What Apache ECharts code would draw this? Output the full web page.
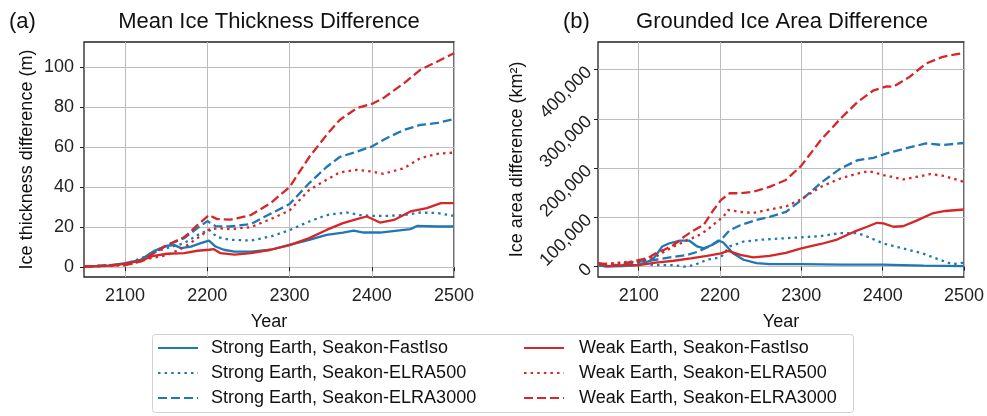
<!DOCTYPE html>
<html>
<head>
<meta charset="utf-8">
<script src="https://cdn.jsdelivr.net/npm/echarts@6/dist/echarts.min.js"></script>
<style>
    html, body { margin: 0; padding: 0; background: #fff; }
    #chart { width: 987px; height: 416px; }
</style>
</head>
<body>
<div id="chart"></div>
<script>
    // series names (legend)
    const names = [
        'Strong Earth, Seakon-FastIso',
        'Strong Earth, Seakon-ELRA500',
        'Strong Earth, Seakon-ELRA3000',
        'Weak Earth, Seakon-FastIso',
        'Weak Earth, Seakon-ELRA500',
        'Weak Earth, Seakon-ELRA3000'
    ];

    // (a) mean ice thickness difference, [year, m]
    const thkStrongFastIso = [[2050,0.3],[2080,0.8],[2100,2],[2119,3.7],[2135,8],[2151,10.7],[2160,11],[2168,9.5],[2180,10.3],[2192,12],[2202,13.3],[2210,10.3],[2220,8.7],[2233,7.8],[2253,7.8],[2277,8.7],[2300,11.1],[2324,13.6],[2345,16.1],[2365,17.3],[2378,18.3],[2390,17.3],[2410,17.3],[2431,18.3],[2447,19],[2455,20.6],[2480,20.3],[2500,20.3]];
    const thkStrongElra500 = [[2050,0.3],[2100,1.5],[2123,5],[2139,8],[2155,10],[2172,12],[2188,16],[2202,18.7],[2212,15],[2228,13.7],[2253,13.3],[2277,15.3],[2300,18.5],[2324,22.8],[2345,26],[2369,27.3],[2386,26],[2400,25.6],[2418,25.6],[2439,26],[2459,27.3],[2480,27],[2500,25.6]];
    const thkStrongElra3000 = [[2050,0.3],[2100,1.5],[2120,3],[2131,7],[2151,11],[2172,14.5],[2188,19.5],[2200,23],[2210,20.5],[2228,20.3],[2253,21.5],[2269,25],[2300,31.5],[2324,42],[2345,50],[2361,55],[2382,57.7],[2400,60.2],[2418,64.4],[2439,68.5],[2459,71],[2480,72],[2500,74]];
    const thkWeakFastIso = [[2050,0.3],[2080,0.8],[2100,1.7],[2119,3.3],[2135,5.7],[2151,6.7],[2172,7],[2188,8.2],[2202,8.7],[2208,9],[2216,7],[2233,6.3],[2253,7],[2277,8.7],[2300,11],[2324,14.5],[2345,18.6],[2365,22],[2386,24.5],[2394,25.3],[2410,22.3],[2427,23.6],[2447,27.8],[2467,29.5],[2484,32],[2500,32]];
    const thkWeakElra500 = [[2050,0.3],[2100,1],[2111,2],[2131,4.5],[2151,6],[2172,10],[2188,14.5],[2202,18.7],[2212,19.5],[2228,19],[2253,20],[2277,24],[2300,28.3],[2324,38.6],[2345,43.6],[2361,47.3],[2382,48.6],[2400,47.8],[2414,46.6],[2439,49.4],[2459,54.4],[2480,56.6],[2500,57.2]];
    const thkWeakElra3000 = [[2050,0.3],[2100,1],[2120,3],[2131,6],[2151,11],[2172,15],[2188,21],[2202,26],[2212,24],[2228,23.7],[2253,26],[2277,32],[2300,40],[2324,55],[2345,66],[2361,73.5],[2382,79.4],[2400,81.5],[2414,84.4],[2439,91.8],[2459,98.5],[2480,102.7],[2500,106.8]];

    // (b) grounded ice area difference, [year, km2]
    const areaStrongFastIso = [[2050,3000],[2060,0],[2080,1000],[2100,3000],[2117,14000],[2123,27000],[2129,41000],[2137,47000],[2151,53000],[2162,53000],[2172,41000],[2180,37000],[2190,44000],[2198,53000],[2204,49000],[2216,27000],[2229,14000],[2245,7000],[2261,5000],[2300,5000],[2350,4000],[2400,4000],[2450,2000],[2500,1000]];
    const areaStrongElra500 = [[2050,3000],[2070,7000],[2086,10000],[2101,7000],[2121,3000],[2143,3000],[2156,0],[2168,3000],[2184,14000],[2201,19000],[2212,41000],[2229,51000],[2253,55000],[2294,59000],[2324,62000],[2348,68000],[2369,68000],[2381,61000],[2401,47000],[2425,37000],[2449,27000],[2470,14000],[2486,5000],[2500,8000]];
    const areaStrongElra3000 = [[2050,2000],[2074,3000],[2101,10000],[2121,14000],[2143,20000],[2160,24000],[2172,30000],[2188,42000],[2201,54000],[2212,74000],[2225,84000],[2245,95000],[2261,101000],[2281,111000],[2300,135000],[2324,170000],[2348,199000],[2369,216000],[2389,221000],[2405,230000],[2433,242000],[2453,250000],[2474,247000],[2500,251000]];
    const areaWeakFastIso = [[2050,7000],[2062,1000],[2082,3000],[2100,3000],[2121,8000],[2143,12000],[2164,17000],[2184,22000],[2201,27000],[2210,32000],[2225,24000],[2241,19000],[2261,22000],[2281,28000],[2300,37000],[2324,46000],[2344,55000],[2365,71000],[2381,81000],[2393,89000],[2401,88000],[2413,81000],[2425,82000],[2441,93000],[2461,108000],[2477,113000],[2500,116000]];
    const areaWeakElra500 = [[2050,5000],[2100,10000],[2121,20000],[2131,30000],[2143,41000],[2160,54000],[2172,62000],[2184,74000],[2196,91000],[2204,101000],[2210,115000],[2225,111000],[2241,109000],[2261,116000],[2281,122000],[2300,137000],[2324,162000],[2348,179000],[2369,189000],[2383,194000],[2401,186000],[2425,177000],[2441,182000],[2459,188000],[2476,184000],[2500,172000]];
    const areaWeakElra3000 = [[2050,7000],[2074,3000],[2101,14000],[2111,17000],[2121,27000],[2131,34000],[2143,44000],[2156,61000],[2165,71000],[2180,85000],[2192,115000],[2201,135000],[2212,149000],[2225,149000],[2241,152000],[2261,162000],[2281,176000],[2300,205000],[2324,257000],[2348,300000],[2369,334000],[2389,358000],[2405,366000],[2413,365000],[2433,385000],[2453,412000],[2474,426000],[2500,434000]];

    // tick labels
    const yearTicks = [2100, 2200, 2300, 2400, 2500];
    const thkTicks = [0, 20, 40, 60, 80, 100];
    const areaTicks = [0, 100000, 200000, 300000, 400000];

    const blue = '#1f77b4';
    const red = '#d62728';
    const font = '"Liberation Sans", Arial, sans-serif';
    const styles = [
        {color: blue, type: 'solid'},
        {color: blue, type: [2.5, 4.1]},
        {color: blue, type: [9, 4]},
        {color: red, type: 'solid'},
        {color: red, type: [2.5, 4.1]},
        {color: red, type: [9, 4]}
    ];
    const thkData = [thkStrongFastIso, thkStrongElra500, thkStrongElra3000, thkWeakFastIso, thkWeakElra500, thkWeakElra3000];
    const areaData = [areaStrongFastIso, areaStrongElra500, areaStrongElra3000, areaWeakFastIso, areaWeakElra500, areaWeakElra3000];

    function makeX(gridIndex) {
        return {
            type: 'value', gridIndex: gridIndex, min: 2050, max: 2500,
            name: 'Year', nameLocation: 'middle', nameGap: 36,
            nameTextStyle: {fontSize: 18, color: '#111', fontFamily: font},
            axisLine: {show: false},
            axisTick: {show: true, length: 4, lineStyle: {color: '#222'}, customValues: yearTicks},
            axisLabel: {
                fontSize: 18, color: '#222', fontFamily: font, margin: 10, customValues: yearTicks,
                formatter: function (v) { return String(v); }
            },
            splitLine: {show: true, lineStyle: {color: '#bdbdbd', width: 1}}
        };
    }

    function makeSeries(data, i, axisIndex) {
        return {
            name: names[i], type: 'line', data: data,
            xAxisIndex: axisIndex, yAxisIndex: axisIndex,
            symbol: 'none', smooth: false,
            lineStyle: {color: styles[i].color, type: styles[i].type, width: 2.3, cap: 'butt'},
            itemStyle: {color: styles[i].color}
        };
    }

    let series = [];
    thkData.forEach(function (d, i) { series.push(makeSeries(d, i, 0)); });
    areaData.forEach(function (d, i) { series.push(makeSeries(d, i, 1)); });

    let legendBase = {
        orient: 'vertical', top: 339, padding: 0,
        itemWidth: 40, itemHeight: 14, itemGap: 7, selectedMode: false,
        itemStyle: {opacity: 0, color: 'transparent', borderWidth: 0}
    };

    let myChart = echarts.init(document.getElementById('chart'), null, {renderer: 'canvas'});
    let option = {
        animation: false,
        backgroundColor: '#fff',
        textStyle: {fontFamily: font},
        title: [
            {text: '(a)', left: 9, top: 11, padding: 0, textStyle: {fontSize: 22, fontWeight: 'normal', color: '#111', fontFamily: font}},
            {text: 'Mean Ice Thickness Difference', left: 269, top: 11, padding: 0, textAlign: 'center', textStyle: {fontSize: 22, fontWeight: 'normal', color: '#111', fontFamily: font}},
            {text: '(b)', left: 563, top: 11, padding: 0, textStyle: {fontSize: 22, fontWeight: 'normal', color: '#111', fontFamily: font}},
            {text: 'Grounded Ice Area Difference', left: 782, top: 11, padding: 0, textAlign: 'center', textStyle: {fontSize: 22, fontWeight: 'normal', color: '#111', fontFamily: font}}
        ],
        grid: [
            {left: 84, top: 42, width: 370, height: 235, show: true, borderColor: '#222', borderWidth: 1.3, backgroundColor: 'transparent'},
            {left: 598, top: 42, width: 369, height: 235, show: true, borderColor: '#222', borderWidth: 1.3, backgroundColor: 'transparent'}
        ],
        xAxis: [makeX(0), makeX(1)],
        yAxis: [
            {
                type: 'value', gridIndex: 0, min: -4.9, max: 112.4,
                name: 'Ice thickness difference (m)', nameLocation: 'middle', nameGap: 48,
                nameTextStyle: {fontSize: 18, color: '#111', fontFamily: font},
                axisLine: {show: false},
                axisTick: {show: true, length: 4, lineStyle: {color: '#222'}, customValues: thkTicks},
                axisLabel: {fontSize: 18, color: '#222', fontFamily: font, margin: 10, customValues: thkTicks},
                splitLine: {show: true, lineStyle: {color: '#bdbdbd', width: 1}}
            },
            {
                type: 'value', gridIndex: 1, min: -21000, max: 456000,
                name: 'Ice area difference (km²)', nameLocation: 'middle', nameGap: 72,
                nameTextStyle: {fontSize: 18, color: '#111', fontFamily: font},
                axisLine: {show: false},
                axisTick: {show: true, length: 4, lineStyle: {color: '#222'}, customValues: areaTicks},
                axisLabel: {
                    fontSize: 18, color: '#222', fontFamily: font, margin: 9, rotate: 45,
                    customValues: areaTicks,
                    formatter: function (v) { return v.toLocaleString('en-US'); }
                },
                splitLine: {show: true, lineStyle: {color: '#bdbdbd', width: 1}}
            }
        ],
        legend: [
            Object.assign({}, legendBase, {
                data: names.slice(0, 3), left: 157,
                textStyle: {fontSize: 18, color: '#111', fontFamily: font, padding: [0, 0, 0, 8]}
            }),
            Object.assign({}, legendBase, {
                data: names.slice(3), left: 523,
                textStyle: {fontSize: 18, color: '#111', fontFamily: font, padding: [0, 0, 0, 10]}
            })
        ],
        graphic: [
            {type: 'rect', left: 152, top: 334, shape: {width: 701, height: 78, r: 3}, style: {fill: 'rgba(255,255,255,0.8)', stroke: '#d0d0d0', lineWidth: 1}, z: -1}
        ],
        series: series
    };
    myChart.setOption(option);
</script>
</body>
</html>
